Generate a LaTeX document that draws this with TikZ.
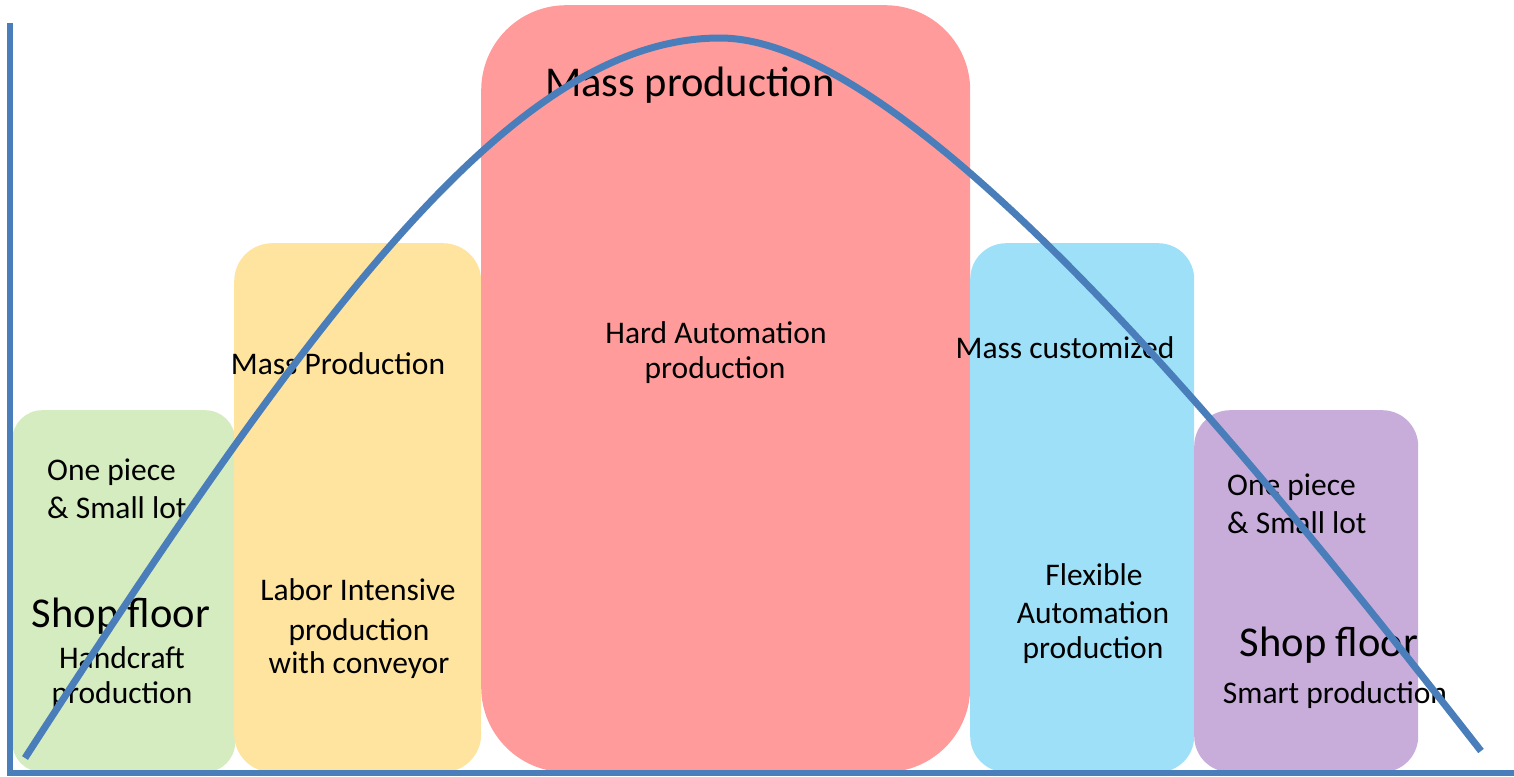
\documentclass[tikz,border=0pt]{standalone}
\usepackage{fontspec}
\setmainfont{Carlito}
\definecolor{cGreen}{HTML}{D5EBC0}
\definecolor{cYellow}{HTML}{FEE49F}
\definecolor{cRed}{HTML}{FF9B9B}
\definecolor{cBlue}{HTML}{9DE0F8}
\definecolor{cPurple}{HTML}{C8ADDA}
\definecolor{cLine}{HTML}{4A7EBB}
\tikzset{
  stage/.style={draw=none, inner sep=0pt, anchor=north west},
  small/.style={font=\fontsize{31.5}{36}\selectfont, inner sep=0pt, anchor=base},
  large/.style={font=\fontsize{42.5}{50}\selectfont, inner sep=0pt, anchor=base},
  axis/.style={draw=cLine, line width=5.5pt},
  curve/.style={draw=cLine, line width=7pt},
}
\begin{document}
\begin{tikzpicture}[x=1pt, y=-1pt]
\useasboundingbox (0,0) rectangle (1514,776);

% stage boxes
\node[stage, fill=cGreen, minimum width=223pt, minimum height=362pt, rounded corners=30pt] (green) at (12,410) {};
\node[stage, fill=cYellow, minimum width=247pt, minimum height=529pt, rounded corners=38pt] (yellow) at (234,243) {};
\node[stage, fill=cRed, minimum width=489pt, minimum height=767pt, rounded corners=85pt] (red) at (481,5) {};
\node[stage, fill=cBlue, minimum width=224pt, minimum height=529pt, rounded corners=36pt] (blue) at (970,243) {};
\node[stage, fill=cPurple, minimum width=224pt, minimum height=362pt, rounded corners=36pt] (purple) at (1194,410) {};

% axes
\coordinate (ytop) at (10,23);
\coordinate (origin) at (10,773);
\coordinate (xend) at (1514,773);
\draw[axis] (ytop) -- (10,775.75);
\draw[axis] (7,773) -- (xend);

% labels: handcraft stage
\node[small, anchor=base west] (g1) at (47,480) {One piece};
\node[small, anchor=base west] (g2) at (47,518) {\& Small lot};
\node[large] (g3) at (121,627) {Shop floor};
\node[small] (g4) at (122,668) {Handcraft};
\node[small] (g5) at (122,703) {production};

% labels: conveyor stage
\node[small] (y1) at (338,374) {Mass Production};
\node[small] (y2) at (358,600) {Labor Intensive};
\node[small] (y3) at (359,640) {production};
\node[small] (y4) at (359,673) {with conveyor};

% labels: hard automation stage
\node[large] (r1) at (690,96) {Mass production};
\node[small] (r2) at (716,343) {Hard Automation};
\node[small] (r3) at (715,378) {production};

% labels: flexible automation stage
\node[small] (b1) at (1065,358) {Mass customized};
\node[small] (b2) at (1094,585) {Flexible};
\node[small] (b3) at (1093,623) {Automation};
\node[small] (b4) at (1093,658) {production};

% labels: smart stage
\node[small, anchor=base west] (p1) at (1227,495) {One piece};
\node[small, anchor=base west] (p2) at (1227,533) {\& Small lot};
\node[large] (p3) at (1329,656) {Shop floor};
\node[small] (p4) at (1335,703) {Smart production};

% production volume curve: rise to the peak, then fall
\coordinate (cstart) at (25,758);
\coordinate (cpeak) at (720,38);
\coordinate (cend) at (1481,751);
\draw[curve] (cstart) .. controls (325,293) and (520,38) .. (cpeak)
  .. controls (920,38) and (1281,495) .. (cend);
\end{tikzpicture}
\end{document}
